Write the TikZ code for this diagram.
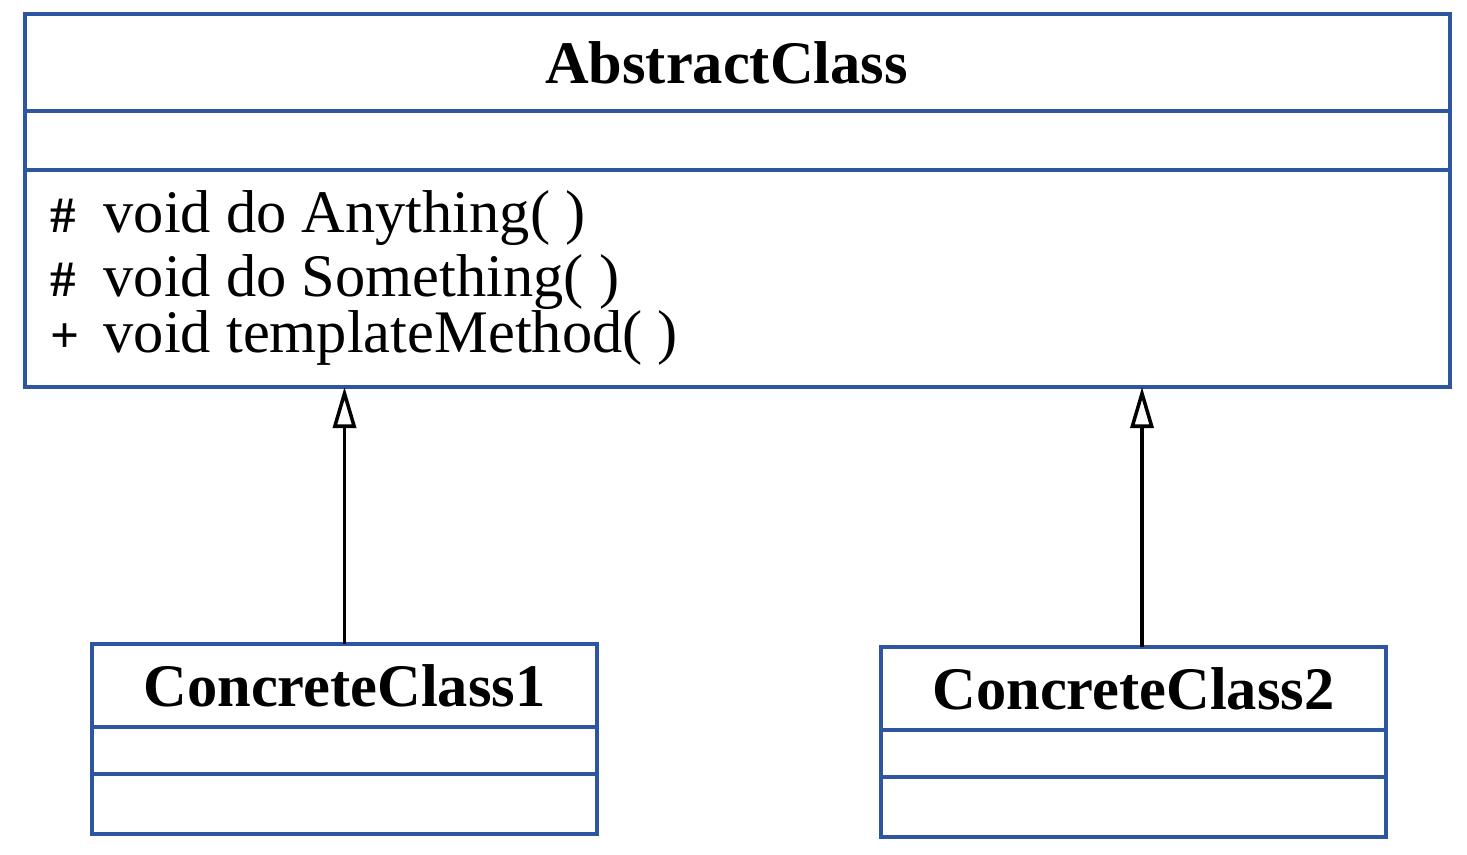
\documentclass[tikz,border=0pt]{standalone}
\usepackage{fontspec}
\setmainfont{Liberation Serif}
\usetikzlibrary{positioning,arrows.meta}
\definecolor{umlblue}{HTML}{2E56A0}
\newcommand{\vis}[1]{\makebox[0.53cm][l]{\fontsize{14.5}{15}\selectfont\bfseries #1}}

\begin{document}
\begin{tikzpicture}[
    compart/.style={draw=umlblue, line width=1.3pt, outer sep=0pt, inner sep=0pt},
    classname/.style={compart, font=\fontsize{17.2}{20}\selectfont\bfseries},
    member/.style={anchor=base west, inner sep=0pt, font=\fontsize{17.2}{20}\selectfont},
    inherit/.style={-{Triangle[open, length=4.1mm, width=2.3mm]}, line width=1pt}]
  \useasboundingbox (0,0) rectangle (14.67,8.54);
  % abstract class
  \node[classname, minimum width=14.25cm, minimum height=0.97cm] (abs) at (7.375,7.915) {AbstractClass\kern0.22cm};
  \node[compart, minimum width=14.25cm, minimum height=0.59cm, below=0pt of abs] (absattr) {};
  \node[compart, minimum width=14.25cm, minimum height=2.17cm, below=0pt of absattr] (absops) {};
  \node[member] (m1) at (0.50,6.21) {\vis{\#}void do Anything( )};
  \node[member] (m2) at (0.50,5.57) {\vis{\#}void do Something( )};
  \node[member] (m3) at (0.50,5.02) {\vis{+}void templateMethod( )};
  % concrete classes
  \node[classname, minimum width=5.05cm, minimum height=0.83cm] (cc1) at (3.445,1.685) {ConcreteClass1};
  \node[compart, minimum width=5.05cm, minimum height=0.47cm, below=0pt of cc1] (cc1attr) {};
  \node[compart, minimum width=5.05cm, minimum height=0.60cm, below=0pt of cc1attr] (cc1ops) {};
  \node[classname, minimum width=5.05cm, minimum height=0.83cm] (cc2) at (11.335,1.655) {ConcreteClass2};
  \node[compart, minimum width=5.05cm, minimum height=0.47cm, below=0pt of cc2] (cc2attr) {};
  \node[compart, minimum width=5.05cm, minimum height=0.60cm, below=0pt of cc2attr] (cc2ops) {};
  \foreach \c/\dx in {cc1/0, cc2/0.085} { \draw[inherit] ([xshift=\dx cm]\c.north) -- ([xshift=\dx cm]\c.north |- absops.south); }
\end{tikzpicture}
\end{document}
